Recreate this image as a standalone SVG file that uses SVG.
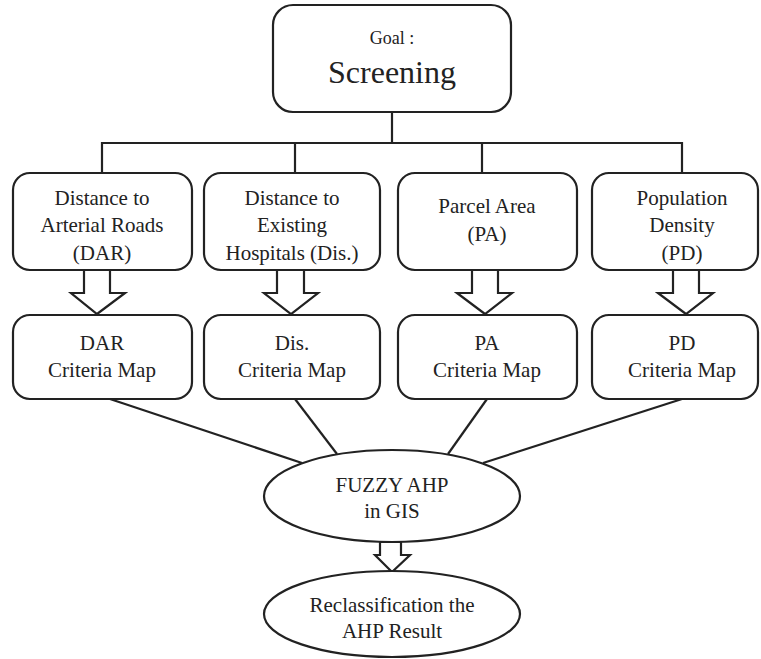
<svg xmlns="http://www.w3.org/2000/svg" width="761" height="659" viewBox="0 0 761 659">
<style>
.box{fill:#fff;stroke:#222;stroke-width:2.2}
.ln{fill:none;stroke:#222;stroke-width:2.2}
.ar{fill:#fff;stroke:#222;stroke-width:2.2;stroke-linejoin:miter}
</style>
<rect width="761" height="659" fill="#fff"/>
<g id="connectors">
<polyline class="ln" points="392,112 392,143"/>
<polyline class="ln" points="102,173 102,143 682,143 682,173"/>
<line class="ln" x1="295" y1="143" x2="295" y2="173"/>
<line class="ln" x1="482" y1="143" x2="482" y2="173"/>
<line class="ln" x1="110" y1="399" x2="302" y2="463"/>
<line class="ln" x1="295" y1="399" x2="337" y2="454"/>
<line class="ln" x1="487" y1="399" x2="448" y2="454"/>
<line class="ln" x1="682" y1="399" x2="483" y2="463"/>
<polygon class="ar" points="84,270 110,270 110,293 125,293 97,314 71,293 84,293"/>
<polygon class="ar" points="277,270 304,270 304,293 318,293 291,314 264,293 277,293"/>
<polygon class="ar" points="472,270 498,270 498,293 512,293 485,314 457,293 472,293"/>
<polygon class="ar" points="673,270 699,270 699,293 713,293 686,314 658,293 673,293"/>
<polygon class="ar" points="380,542 401,542 401,555 410,555 392,572 375,555 380,555"/>
</g>
<g id="goal" text-anchor="middle" fill="#222">
<rect class="box" x="273" y="5" width="238" height="107" rx="20"/>
<text x="392" y="44" font-family="Liberation Serif" font-size="18">Goal :</text>
<text x="392" y="83" font-family="Liberation Serif" font-size="32">Screening</text>
</g>
<g id="dar" text-anchor="middle" fill="#222">
<rect class="box" x="13" y="173" width="179" height="97" rx="17"/>
<text x="102" y="205" font-family="Liberation Serif" font-size="21">Distance to</text>
<text x="102" y="232" font-family="Liberation Serif" font-size="21">Arterial Roads</text>
<text x="102" y="260" font-family="Liberation Serif" font-size="21">(DAR)</text>
</g>
<g id="dis" text-anchor="middle" fill="#222">
<rect class="box" x="204" y="173" width="176" height="97" rx="17"/>
<text x="292" y="205" font-family="Liberation Serif" font-size="21">Distance to</text>
<text x="292" y="232" font-family="Liberation Serif" font-size="21">Existing</text>
<text x="292" y="260" font-family="Liberation Serif" font-size="21">Hospitals (Dis.)</text>
</g>
<g id="pa" text-anchor="middle" fill="#222">
<rect class="box" x="398" y="173" width="179" height="97" rx="17"/>
<text x="487" y="213" font-family="Liberation Serif" font-size="21">Parcel Area</text>
<text x="487" y="241" font-family="Liberation Serif" font-size="21">(PA)</text>
</g>
<g id="pd" text-anchor="middle" fill="#222">
<rect class="box" x="592" y="173" width="166" height="97" rx="17"/>
<text x="682" y="205" font-family="Liberation Serif" font-size="21">Population</text>
<text x="682" y="232" font-family="Liberation Serif" font-size="21">Density</text>
<text x="682" y="260" font-family="Liberation Serif" font-size="21">(PD)</text>
</g>
<g id="dar-map" text-anchor="middle" fill="#222">
<rect class="box" x="13" y="315" width="179" height="84" rx="17"/>
<text x="102" y="350" font-family="Liberation Serif" font-size="21">DAR</text>
<text x="102" y="377" font-family="Liberation Serif" font-size="21">Criteria Map</text>
</g>
<g id="dis-map" text-anchor="middle" fill="#222">
<rect class="box" x="204" y="315" width="176" height="84" rx="17"/>
<text x="292" y="350" font-family="Liberation Serif" font-size="21">Dis.</text>
<text x="292" y="377" font-family="Liberation Serif" font-size="21">Criteria Map</text>
</g>
<g id="pa-map" text-anchor="middle" fill="#222">
<rect class="box" x="398" y="315" width="179" height="84" rx="17"/>
<text x="487" y="350" font-family="Liberation Serif" font-size="21">PA</text>
<text x="487" y="377" font-family="Liberation Serif" font-size="21">Criteria Map</text>
</g>
<g id="pd-map" text-anchor="middle" fill="#222">
<rect class="box" x="592" y="315" width="166" height="84" rx="17"/>
<text x="682" y="350" font-family="Liberation Serif" font-size="21">PD</text>
<text x="682" y="377" font-family="Liberation Serif" font-size="21">Criteria Map</text>
</g>
<g id="fuzzy" text-anchor="middle" fill="#222">
<ellipse class="box" cx="392" cy="496" rx="128" ry="46"/>
<text x="392" y="492" font-family="Liberation Serif" font-size="21">FUZZY AHP</text>
<text x="392" y="518" font-family="Liberation Serif" font-size="21">in GIS</text>
</g>
<g id="reclass" text-anchor="middle" fill="#222">
<ellipse class="box" cx="392" cy="614" rx="128" ry="43"/>
<text x="392" y="612" font-family="Liberation Serif" font-size="21">Reclassification the</text>
<text x="392" y="638" font-family="Liberation Serif" font-size="21">AHP Result</text>
</g>
</svg>
